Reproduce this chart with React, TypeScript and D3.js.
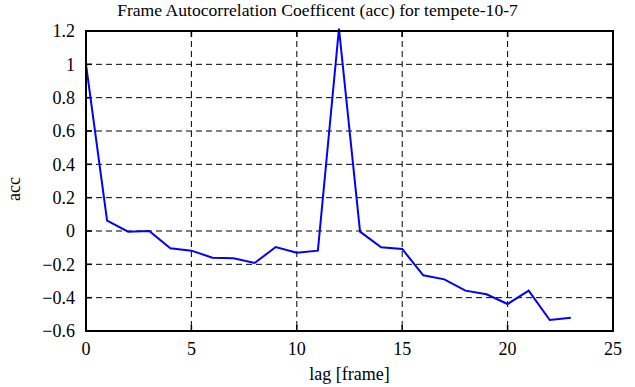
import React, { useEffect, useRef } from 'react';
import * as d3 from 'd3';

const lags = [0, 1, 2, 3, 4, 5, 6, 7, 8, 9, 10, 11, 12, 13, 14, 15, 16, 17, 18, 19, 20, 21, 22, 23];
const accValues = [1.0, 0.062, -0.004, 0.0, -0.104, -0.118, -0.16, -0.164, -0.192, -0.096, -0.13, -0.118,
    1.215, -0.004, -0.098, -0.108, -0.266, -0.29, -0.358, -0.38, -0.438, -0.358, -0.534, -0.52];
const xTicks = [0, 5, 10, 15, 20, 25];
const yTicks = [-0.6, -0.4, -0.2, 0, 0.2, 0.4, 0.6, 0.8, 1, 1.2];
const title = 'Frame Autocorrelation Coefficent (acc) for tempete-10-7';

const App = () => {
    const ref = useRef<SVGSVGElement>(null);

    useEffect(() => {
        if (!ref.current) return;
        const svg = d3.select(ref.current);
        svg.selectAll('*').remove();

        const W = 635, H = 387;
        const margin = { top: 31, right: 22, bottom: 56, left: 86 };
        const width = W - margin.left - margin.right;
        const height = H - margin.top - margin.bottom;
        const font = 'Liberation Serif, serif';

        const x = d3.scaleLinear().domain([0, 25]).range([0, width]);
        const y = d3.scaleLinear().domain([-0.6, 1.2]).range([height, 0]);

        svg.append('rect').attr('width', W).attr('height', H).attr('fill', '#fff');

        const g = svg.append('g').attr('transform', `translate(${margin.left},${margin.top})`);

        // dashed grid
        g.append('g').selectAll('line')
            .data(xTicks.filter(d => d > 0 && d < 25))
            .enter().append('line')
            .attr('x1', d => x(d)).attr('x2', d => x(d))
            .attr('y1', 0).attr('y2', height)
            .attr('stroke', '#000').attr('stroke-dasharray', '6,4');
        g.append('g').selectAll('line')
            .data(yTicks.filter(d => d > -0.6 && d < 1.2))
            .enter().append('line')
            .attr('x1', 0).attr('x2', width)
            .attr('y1', d => y(d)).attr('y2', d => y(d))
            .attr('stroke', '#000').attr('stroke-dasharray', '6,4');

        // inner ticks on all sides
        const tl = 6;
        const tickG = g.append('g').attr('stroke', '#000').attr('stroke-width', 1.5);
        xTicks.forEach(t => {
            tickG.append('line').attr('x1', x(t)).attr('x2', x(t)).attr('y1', height).attr('y2', height - tl);
            tickG.append('line').attr('x1', x(t)).attr('x2', x(t)).attr('y1', 0).attr('y2', tl);
        });
        yTicks.forEach(t => {
            tickG.append('line').attr('x1', 0).attr('x2', tl).attr('y1', y(t)).attr('y2', y(t));
            tickG.append('line').attr('x1', width).attr('x2', width - tl).attr('y1', y(t)).attr('y2', y(t));
        });

        // data line
        const line = d3.line<number>()
            .x((d, i) => x(lags[i]))
            .y(d => y(d));
        g.append('path')
            .datum(accValues)
            .attr('fill', 'none')
            .attr('stroke', '#0000ff')
            .attr('stroke-width', 2)
            .attr('d', line);

        // frame
        g.append('rect')
            .attr('width', width).attr('height', height)
            .attr('fill', 'none').attr('stroke', '#000').attr('stroke-width', 2);

        // tick labels
        g.append('g').selectAll('text')
            .data(xTicks)
            .enter().append('text')
            .attr('x', d => x(d))
            .attr('y', height + 24)
            .attr('text-anchor', 'middle')
            .attr('font-family', font).attr('font-size', 18)
            .text(d => d3.format('d')(d));
        g.append('g').selectAll('text')
            .data(yTicks)
            .enter().append('text')
            .attr('x', -11)
            .attr('y', d => y(d))
            .attr('dy', '0.35em')
            .attr('text-anchor', 'end')
            .attr('font-family', font).attr('font-size', 18)
            .text(d => d3.format('')(+d.toFixed(1)));

        // titles
        svg.append('text')
            .attr('x', W / 2).attr('y', 16)
            .attr('text-anchor', 'middle')
            .attr('font-family', font).attr('font-size', 17.6)
            .text(title);
        svg.append('text')
            .attr('x', margin.left + width / 2).attr('y', 380)
            .attr('text-anchor', 'middle')
            .attr('font-family', font).attr('font-size', 18)
            .text('lag [frame]');
        svg.append('text')
            .attr('transform', `translate(20,189) rotate(-90)`)
            .attr('text-anchor', 'middle')
            .attr('font-family', font).attr('font-size', 18)
            .text('acc');
    }, []);

    return (
        <svg ref={ref} width={635} height={387} style={{ position: 'absolute', left: 0, top: 0 }} />
    );
};

export default App;
